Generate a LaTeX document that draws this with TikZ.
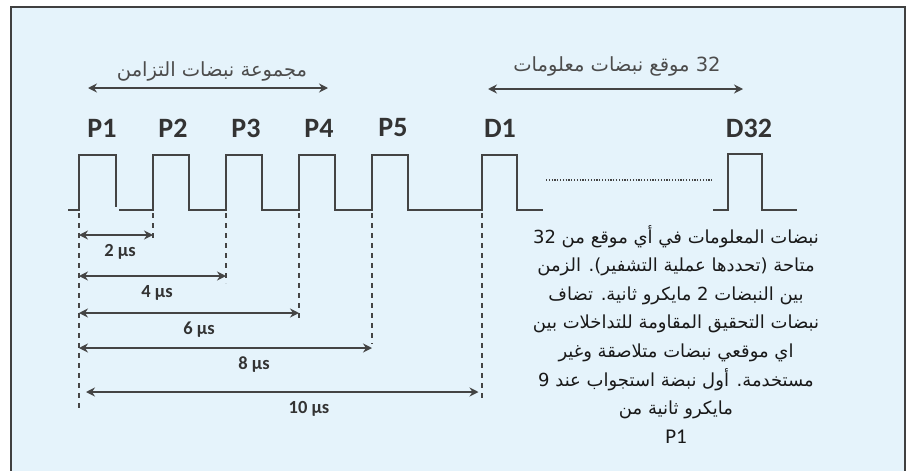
\documentclass[tikz,border=0pt]{standalone}
\usepackage{fontspec}
\usepackage{xcolor}
\usepackage{tikz}
\usetikzlibrary{arrows.meta}

\setmainfont{Carlito}
\newfontfamily\arabicfont[Script=Arabic]{DejaVu Sans}
\TeXXeTstate=1

\definecolor{panel}{HTML}{E5F3FB}
\definecolor{ink}{HTML}{444444}

\begin{document}
\begin{tikzpicture}[
        x=1pt, y=-1pt,
        every node/.style={inner sep=0pt, text=ink},
        pulse/.style={draw=ink, line width=2.6pt},
        guide/.style={draw=ink, line width=1.6pt, dash pattern=on 5pt off 5pt},
        span/.style={draw=ink, line width=2.2pt,
                {Stealth[length=9pt,width=9pt,inset=3pt]}-{Stealth[length=9pt,width=9pt,inset=3pt]}},
        tag/.style={font=\bfseries\fontsize{28}{32}\selectfont, text=black!80},
        gap/.style={font=\bfseries\fontsize{18.5}{22}\selectfont, text=black!80},
        heading/.style={font=\arabicfont\fontsize{19.5}{22}\selectfont, text=black!70},
        note/.style={font=\arabicfont\fontsize{18}{28.6}\selectfont, text=black!90, align=center},
    ]

    \useasboundingbox (0,0) rectangle (908,471);
    \fill[panel] (11,7) rectangle (905,471);
    \draw[line width=1.6pt, draw=black!75] (11,471) -- (11,7) -- (905,7) -- (905,471);

    % rising edges
    \foreach \name/\x in {t1/79, t2/153, t3/226, t4/299, t5/372, t6/482}{
            \coordinate (\name) at (\x,210);
        }

    % pulse train
    \draw[pulse] (68,210) -- (t1) -- ++(0,-55) -- ++(37,0) -- ++(0,52);
    \draw[pulse] (119,210) \foreach \x in {153,226,299,372}{
            -- (\x,210) -- ++(0,-55) -- ++(36,0) -- ++(0,55)
        } -- (t6) -- ++(0,-55) -- ++(35,0) -- ++(0,55) -- (543,210);
    \draw[ink, line width=1.3pt, dash pattern=on 1.2pt off 1.6pt] (546,180) -- (712,180);
    \draw[pulse] (713,210) -- (728,210) -- ++(0,-56) -- ++(34,0) -- ++(0,56) -- (797,210);

    \foreach \name/\x/\txt in {p1/102/P1, p2/173/P2, p3/246/P3, p4/319/P4,
            p5/393/P5, d1/500/D1, d32/749/D32}{
            \node[tag] (\name) at (\x,128) {\txt};
        }

    % dashed guides below the edges
    \foreach \t/\len in {t1/198, t2/26, t3/70, t4/106, t5/131, t6/185}{
            \draw[guide] (\t) ++(0,3) -- ++(0,\len);
        }

    % spacing from P1
    \foreach \t/\y/\lx/\v/\s [count=\i] in {t2/235/120/2/0, t3/276/157/4/0, t4/313/199/6/0,
            t5/348/254/8/0, t6/392/309/10/7}{
            \coordinate (a\i) at (0,\y);
            \draw[span, shorten <=\s pt, shorten >=\s/2 pt] (t1 |- a\i) -- (\t |- a\i);
            \node[gap] (w\i) at (\lx,\y+17) {\v\ µs};
        }

    % group arrows
    \coordinate (syncL) at (88,88);
    \coordinate (syncR) at (328,88);
    \draw[span] (syncL) -- (syncR);
    \node[heading] (sync) at (212,71) {\beginR مجموعة نبضات التزامن\endR};

    \coordinate (dataL) at (488,89);
    \coordinate (dataR) at (743,89);
    \draw[span] (dataL) -- (dataR);
    \node[heading] (data) at (617,66) {\beginR\beginL32\endL{} موقع نبضات معلومات\endR};

    \node[note, anchor=north] (note) at (676,225) {%
        \beginR نبضات المعلومات في أي موقع من \beginL32\endL\endR\\
        \beginR متاحة (تحددها عملية التشفير). الزمن\endR\\
        \beginR بين النبضات \beginL2\endL{} مايكرو ثانية. تضاف\endR\\
        \beginR نبضات التحقيق المقاومة للتداخلات بين\endR\\
        \beginR اي موقعي نبضات متلاصقة وغير\endR\\
        \beginR مستخدمة. أول نبضة استجواب عند \beginL9\endL\endR\\
        \beginR مايكرو ثانية من\endR\\
        {\fontspec{Carlito}\fontsize{21}{28.6}\selectfont P1}};
\end{tikzpicture}
\end{document}
